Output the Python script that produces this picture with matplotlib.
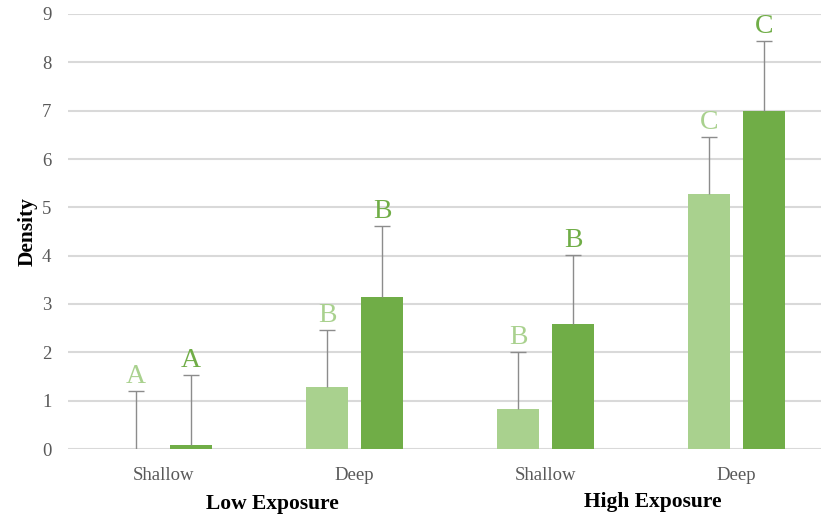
import numpy as np
import matplotlib.pyplot as plt
import matplotlib.transforms as mtransforms

plt.rcParams["font.family"] = ["Liberation Serif", "DejaVu Serif"]

depth_labels = ["Shallow", "Deep", "Shallow", "Deep"]
exposure_labels = ["Low Exposure", "High Exposure"]

light_means = [0.0, 1.28, 0.82, 5.27]
light_errors = [1.20, 1.18, 1.18, 1.19]
light_letters = ["A", "B", "B", "C"]

dark_means = [0.08, 3.15, 2.58, 7.00]
dark_errors = [1.45, 1.46, 1.43, 1.44]
dark_letters = ["A", "B", "B", "C"]

LIGHT = "#A9D18E"
DARK = "#70AD47"
ERR = "#8c8c8c"

fig = plt.figure(figsize=(8.21, 5.16), dpi=100)
ax = fig.add_axes([68 / 821, 1 - 449 / 516, 764 / 821, 435 / 516])

x = np.arange(len(depth_labels))
width = 0.22
offset = 0.144


def draw_series(xpos, means, errors, letters, color):
    means = np.asarray(means)
    errors = np.asarray(errors)
    tops = means + errors
    ax.bar(xpos, means, width, color=color, zorder=2)
    # upper-only error bars, cap at the top end
    ax.errorbar(xpos, means, yerr=[np.zeros(len(means)), errors],
                fmt="none", ecolor=ERR, elinewidth=1.0, capsize=0, zorder=3)
    ax.plot(xpos, tops, linestyle="none", marker="_", markersize=11,
            markeredgewidth=1.0, color=ERR, zorder=3)
    for xi, top, letter in zip(xpos, tops, letters):
        ax.text(xi, top + 0.17, letter, color=color, fontsize=20,
                ha="center", va="baseline")


draw_series(x - offset, light_means, light_errors, light_letters, LIGHT)
draw_series(x + offset, dark_means, dark_errors, dark_letters, DARK)

ax.set_xlim(-0.5, 3.5)
ax.set_ylim(0, 9)
ax.set_yticks(range(10))
ax.set_xticks(x)
ax.set_xticklabels(depth_labels)

ax.grid(axis="y", color="#d9d9d9", linewidth=1.5, zorder=0)
ax.set_axisbelow(True)
for side in ["top", "right", "left", "bottom"]:
    ax.spines[side].set_visible(False)
ax.tick_params(axis="both", length=0, labelsize=13.5, labelcolor="#595959")
ax.tick_params(axis="y", pad=12)
ax.tick_params(axis="x", pad=13)

ax.set_ylabel("Density", fontsize=15.5, fontweight="bold", labelpad=3)

trans = mtransforms.blended_transform_factory(ax.transData, ax.transAxes)
ax.text(0.57, -0.126, exposure_labels[0], transform=trans, fontsize=15.5,
        fontweight="bold", ha="center", va="center")
ax.text(2.56, -0.122, exposure_labels[1], transform=trans, fontsize=15.5,
        fontweight="bold", ha="center", va="center")

fig.savefig("out.png", dpi=100)
